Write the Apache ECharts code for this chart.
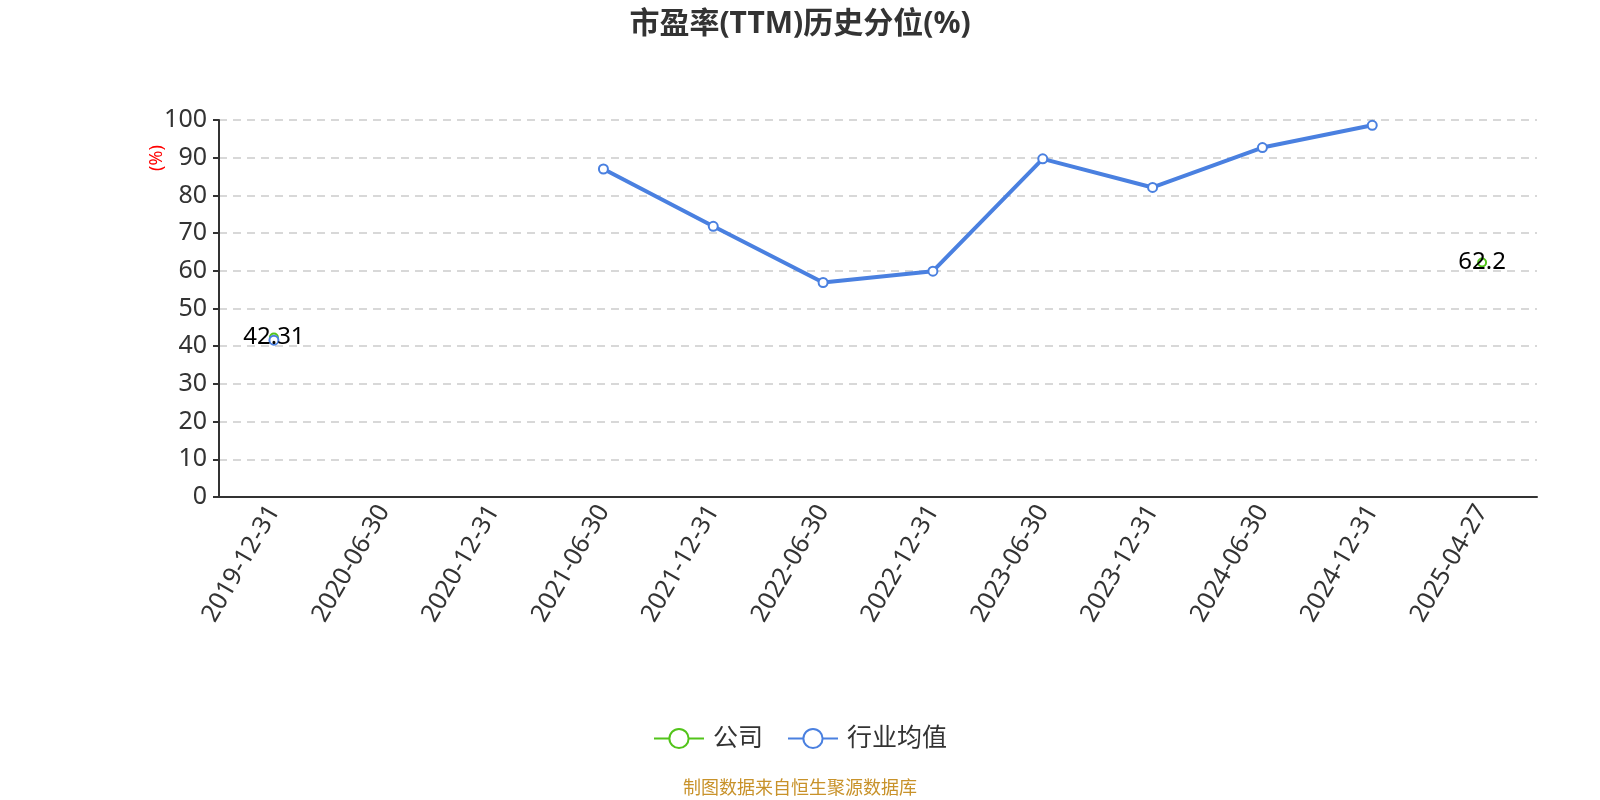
<!DOCTYPE html>
<html><head><meta charset="utf-8">
<script src="https://cdn.jsdelivr.net/npm/echarts@6/dist/echarts.min.js"></script>
<style>html,body{margin:0;padding:0;background:#fff}#c{width:1600px;height:800px}</style>
</head><body><div id="c"></div>
<script>
const categories = ['2019-12-31','2020-06-30','2020-12-31','2021-06-30','2021-12-31','2022-06-30','2022-12-31','2023-06-30','2023-12-31','2024-06-30','2024-12-31','2025-04-27'];
const companyValues = [42.31,null,null,null,null,null,null,null,null,null,null,62.2];
const industryValues = [41.6,null,null,87.0,71.8,56.9,59.9,89.7,82.1,92.7,98.6,null];
const FF = '"Noto Sans","Noto Sans CJK SC",sans-serif';
const chart = echarts.init(document.getElementById('c'));
chart.setOption({
  animation:false,
  textStyle:{fontFamily:FF},
  title:{text:'市盈率(TTM)历史分位(%)',left:'center',top:4,textStyle:{fontSize:30,fontWeight:'bold',color:'#333',fontFamily:FF}},
  grid:{left:219,right:63,top:120,bottom:303},
  legend:{bottom:44,itemWidth:50,itemHeight:24,itemGap:24,textStyle:{fontSize:25,color:'#333',fontFamily:FF,padding:[0,0,0,4]},
    data:['公司','行业均值']},
  graphic:[
    {type:'text',left:'center',bottom:2,style:{text:'制图数据来自恒生聚源数据库',fill:'#c8922a',fontSize:18,fontFamily:FF}},
    {type:'text',x:157,y:158,rotation:Math.PI/2,style:{text:'(%)',fill:'red',fontSize:18,fontFamily:FF,align:'center',verticalAlign:'middle'}}
  ],
  xAxis:{type:'category',data:categories,boundaryGap:true,
    axisLine:{lineStyle:{color:'#333',width:2}},axisTick:{length:6,lineStyle:{color:'#333',width:2}},
    axisLabel:{rotate:60,fontSize:25,color:'#333',interval:0,margin:10,fontFamily:FF}},
  yAxis:{type:'value',min:0,max:100,interval:10,
    axisLine:{show:true,lineStyle:{color:'#333',width:2}},axisTick:{show:true,length:6,lineStyle:{color:'#333',width:2}},
    axisLabel:{fontSize:25,color:'#333',margin:12,fontFamily:FF},
    splitLine:{lineStyle:{type:[8,6],color:'#ccc',width:1.5}}},
  series:[
    {name:'公司',type:'line',data:companyValues,connectNulls:false,symbol:'emptyCircle',symbolSize:8,
      itemStyle:{color:'#52c41a',borderWidth:2},lineStyle:{color:'#52c41a',width:2},
      label:{show:true,position:'inside',fontSize:24,color:'#000',fontFamily:FF}},
    {name:'行业均值',type:'line',data:industryValues,connectNulls:false,symbol:'emptyCircle',symbolSize:9,
      itemStyle:{color:'#4a80e0',borderWidth:2},lineStyle:{color:'#4a80e0',width:4}}
  ]
});
</script></body></html>
